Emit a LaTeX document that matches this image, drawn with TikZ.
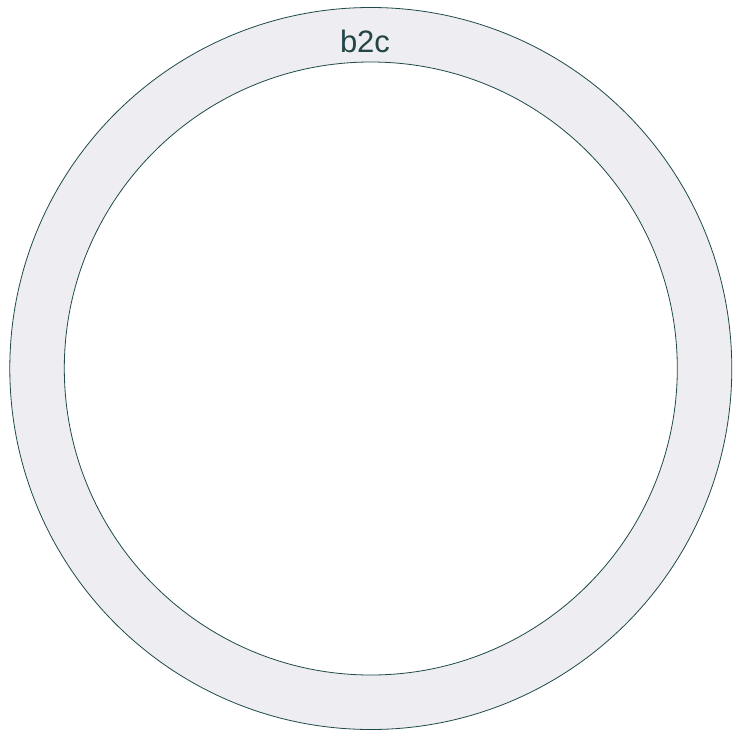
\documentclass[tikz,border=0pt]{standalone}
\usepackage{fontspec}
\setmainfont{Liberation Sans}
\definecolor{ringfill}{HTML}{EDEDF2}
\definecolor{ringline}{HTML}{1E4A48}
\definecolor{labelcol}{HTML}{234545}
\begin{document}
\begin{tikzpicture}[x=1pt,y=-1pt,
  ring/.style={draw=ringline,line width=0.8pt,fill=ringfill,even odd rule},
  ringlabel/.style={text=labelcol,font=\fontsize{31}{36}\selectfont,inner sep=0pt}]
\useasboundingbox (0,0) rectangle (733,734);
\coordinate (c) at (370.8,368.5);
\path[ring] (c) circle[radius=361] (c) circle[radius=306.5];
\node[ringlabel] (lbl) at (365,41) {b2c};
\end{tikzpicture}
\end{document}
